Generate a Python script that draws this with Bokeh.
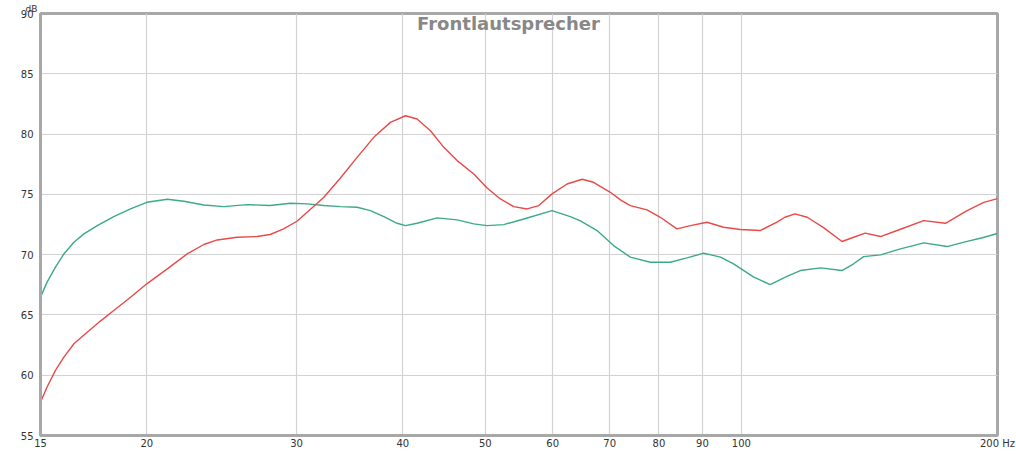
from bokeh.plotting import figure
from bokeh.models import FixedTicker, Label, Range1d
from bokeh.embed import file_html
from bokeh.resources import INLINE

# Green curve (Hz, dB)
freq_green = [15, 15.27, 15.62, 15.98, 16.42, 16.87, 17.49, 18.29, 19.14, 20.0, 21.14, 22.11,
              23.34, 24.64, 26.24, 27.93, 29.5, 30.87, 32.3, 33.78, 35.34, 36.64, 37.99, 39.38,
              40.28, 41.57, 43.89, 46.33, 48.46, 50.24, 52.55, 55.49, 59.9, 62.93, 64.68, 67.66,
              70.75, 74.03, 78.15, 82.5, 86.3, 90.3, 94.5, 97.9, 103.4, 108.1, 113.1, 117.3,
              123.9, 131.3, 135.5, 139.2, 145.7, 153.8, 163.8, 174.5, 184.2, 192.0, 200]
db_green = [66.47, 67.72, 68.96, 70.06, 71.03, 71.72, 72.41, 73.16, 73.79, 74.34, 74.59, 74.43,
            74.12, 73.98, 74.15, 74.07, 74.26, 74.21, 74.07, 73.98, 73.93, 73.65, 73.16, 72.6,
            72.41, 72.6, 73.05, 72.88, 72.55, 72.41, 72.49, 72.96, 73.65, 73.15, 72.8, 72.0,
            70.75, 69.79, 69.37, 69.37, 69.73, 70.12, 69.79, 69.24, 68.13, 67.52, 68.19, 68.68,
            68.9, 68.68, 69.24, 69.84, 69.98, 70.48, 70.98, 70.67, 71.1, 71.4, 71.75]

# Red curve (Hz, dB)
freq_red = [15, 15.27, 15.62, 15.98, 16.42, 17.02, 17.64, 18.29, 19.14, 20.0, 21.14, 22.31,
            23.34, 24.2, 25.54, 26.95, 27.93, 28.96, 30.03, 30.87, 32.3, 33.78, 35.34, 36.97,
            38.67, 40.28, 41.57, 43.1, 44.69, 46.33, 48.46, 50.24, 52.08, 54.0, 55.99, 57.78,
            59.9, 62.38, 65.0, 67.0, 70.14, 72.07, 74.03, 77.45, 80.3, 83.99, 87.1, 91.1, 95.3,
            99.7, 105.2, 110.1, 112.5, 115.6, 119.5, 125.0, 131.3, 135.5, 139.8, 145.7, 152.4,
            163.8, 173.7, 184.2, 192.7, 200]
db_red = [57.77, 59.02, 60.4, 61.5, 62.61, 63.57, 64.49, 65.37, 66.47, 67.58, 68.82, 70.06,
          70.84, 71.22, 71.44, 71.5, 71.67, 72.14, 72.77, 73.52, 74.76, 76.36, 78.07, 79.73,
          80.97, 81.52, 81.25, 80.28, 78.9, 77.8, 76.69, 75.53, 74.62, 73.98, 73.79, 74.07,
          75.04, 75.86, 76.25, 76.0, 75.17, 74.54, 74.07, 73.71, 73.1, 72.14, 72.41, 72.69, 72.27,
          72.08, 72.0, 72.69, 73.1, 73.38, 73.1, 72.22, 71.09, 71.44, 71.78, 71.5, 72.0,
          72.82, 72.6, 73.65, 74.34, 74.65]

x_ticks = [15, 20, 30, 40, 50, 60, 70, 80, 90, 100, 200]
x_tick_labels = {200: "200 Hz"}
y_ticks = [55, 60, 65, 70, 75, 80, 85, 90]
title_text = "Frontlautsprecher"
unit_text = "dB"

p = figure(width=1016, height=454, x_axis_type="log", output_backend="svg",
           toolbar_location=None, x_range=Range1d(15, 200), y_range=Range1d(55, 90),
           min_border_left=40, min_border_right=19, min_border_top=13, min_border_bottom=19)

p.background_fill_color = "white"
p.border_fill_color = "white"
p.outline_line_color = "#a8a8a8"
p.outline_line_width = 3

# unit label above the y axis
p.title.text = unit_text
p.title.align = "left"
p.title.offset = -15
p.title.standoff = 0
p.title.text_font = "DejaVu Sans"
p.title.text_font_style = "normal"
p.title.text_font_size = "9px"
p.title.text_color = "#333333"

for ax in (p.xaxis[0], p.yaxis[0]):
    ax.axis_line_color = "#a8a8a8"
    ax.axis_line_width = 3
    ax.major_tick_line_color = None
    ax.minor_tick_line_color = None
    ax.major_tick_out = 0
    ax.major_tick_in = 0
    ax.major_label_text_font = "DejaVu Sans"
    ax.major_label_text_font_size = "10px"
    ax.major_label_text_color = "#333333"

p.xaxis[0].ticker = FixedTicker(ticks=x_ticks, minor_ticks=[])
p.xaxis[0].major_label_overrides = x_tick_labels
p.xaxis[0].major_label_standoff = 2
p.yaxis[0].ticker = FixedTicker(ticks=y_ticks, minor_ticks=[])
p.yaxis[0].major_label_standoff = 7

p.xgrid.grid_line_color = "#d2d2d2"
p.ygrid.grid_line_color = "#d2d2d2"
p.xgrid.grid_line_width = 1.2
p.ygrid.grid_line_width = 1.2
p.xgrid.minor_grid_line_color = None

p.line(freq_green, db_green, line_color="#3aaa88", line_width=1.4)
p.line(freq_red, db_red, line_color="#e84a48", line_width=1.4)

p.add_layout(Label(x=15, y=90, x_offset=468, y_offset=1, text=title_text,
                   text_align="center", text_baseline="top",
                   text_font="DejaVu Sans", text_font_style="bold",
                   text_font_size="18px", text_color="#888888"))

open("out.html", "w").write(file_html(p, INLINE))
